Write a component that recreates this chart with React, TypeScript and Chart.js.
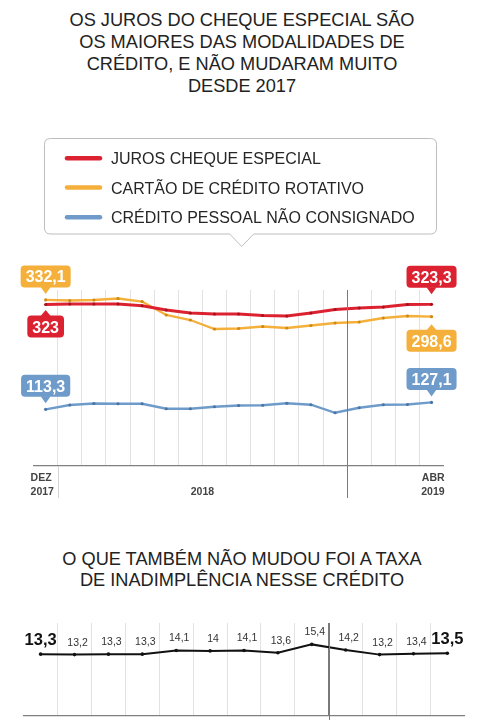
import React, { useEffect, useRef } from "react";
import { Chart, registerables } from "chart.js";

Chart.register(...registerables);

// ---------- DATA ----------
const TITLE_LINES = [
  "OS JUROS DO CHEQUE ESPECIAL SÃO",
  "OS MAIORES DAS MODALIDADES DE",
  "CRÉDITO, E NÃO MUDARAM MUITO",
  "DESDE 2017",
];
const SUBTITLE_LINES = [
  "O QUE TAMBÉM NÃO MUDOU FOI A TAXA",
  "DE INADIMPLÊNCIA NESSE CRÉDITO",
];

const MONTHS = [
  "DEZ 2017", "JAN 2018", "FEV 2018", "MAR 2018", "ABR 2018", "MAI 2018",
  "JUN 2018", "JUL 2018", "AGO 2018", "SET 2018", "OUT 2018", "NOV 2018",
  "DEZ 2018", "JAN 2019", "FEV 2019", "MAR 2019", "ABR 2019",
];
const SERIES_LABELS = [
  "JUROS CHEQUE ESPECIAL",
  "CARTÃO DE CRÉDITO ROTATIVO",
  "CRÉDITO PESSOAL NÃO CONSIGNADO",
];
const CHEQUE_ESPECIAL = [323, 324, 324, 324, 320.5, 312, 306, 304, 304, 301, 300, 306, 313, 316, 318, 323, 323.3];
const CARTAO_ROTATIVO = [332.1, 331, 332, 335, 329, 302, 292, 274, 275, 279, 276, 281, 286, 288, 296, 300, 298.6];
const PESSOAL = [113.3, 122, 125, 124.5, 124.5, 114.5, 114.5, 118.5, 121, 121.5, 125.5, 122.5, 106.5, 116.5, 122.5, 123, 127.1];

const AXIS_START = ["DEZ", "2017"];
const AXIS_MIDDLE = "2018";
const AXIS_END = ["ABR", "2019"];

const DEFAULT_MONTHS = [
  "ABR 2018", "MAI 2018", "JUN 2018", "JUL 2018", "AGO 2018", "SET 2018",
  "OUT 2018", "NOV 2018", "DEZ 2018", "JAN 2019", "FEV 2019", "MAR 2019", "ABR 2019",
];
const INADIMPLENCIA = [13.3, 13.2, 13.3, 13.3, 14.1, 14, 14.1, 13.6, 15.4, 14.2, 13.2, 13.4, 13.5];

// ---------- STYLE ----------
const FONT = '"Liberation Sans", Arial, Helvetica, sans-serif';
const RED = "#DC2230";
const ORANGE = "#F4B03A";
const BLUE = "#6E9BC9";
const COLORS = [RED, ORANGE, BLUE];
const DOT_COLORS = ["#A8121E", "#D08A12", "#4A76A6"];

const fmt = (v: number) => String(v).replace(".", ",");

function roundRect(ctx: CanvasRenderingContext2D, x: number, y: number, w: number, h: number, r: number) {
  ctx.beginPath();
  ctx.moveTo(x + r, y);
  ctx.lineTo(x + w - r, y);
  ctx.quadraticCurveTo(x + w, y, x + w, y + r);
  ctx.lineTo(x + w, y + h - r);
  ctx.quadraticCurveTo(x + w, y + h, x + w - r, y + h);
  ctx.lineTo(x + r, y + h);
  ctx.quadraticCurveTo(x, y + h, x, y + h - r);
  ctx.lineTo(x, y + r);
  ctx.quadraticCurveTo(x, y, x + r, y);
  ctx.closePath();
}

function bubble(ctx: CanvasRenderingContext2D, cx: number, py: number, text: string, color: string, pos: "above" | "below", extra: number) {
  ctx.save();
  ctx.font = `bold 16px ${FONT}`;
  const w = ctx.measureText(text).width + 10;
  const h = 22;
  const x = cx - w / 2;
  let y: number;
  ctx.fillStyle = color;
  if (pos === "above") {
    y = py - 12.5 - extra - h;
    roundRect(ctx, x, y, w, h, 4);
    ctx.fill();
    ctx.beginPath();
    ctx.moveTo(cx - 5, y + h - 0.5);
    ctx.lineTo(cx + 5, y + h - 0.5);
    ctx.lineTo(cx, y + h + 6.5);
    ctx.closePath();
    ctx.fill();
  } else {
    y = py + 11 + extra;
    roundRect(ctx, x, y, w, h, 4);
    ctx.fill();
    ctx.beginPath();
    ctx.moveTo(cx - 5, y + 0.5);
    ctx.lineTo(cx + 5, y + 0.5);
    ctx.lineTo(cx, y - 5.5);
    ctx.closePath();
    ctx.fill();
  }
  ctx.fillStyle = "#ffffff";
  ctx.textAlign = "center";
  ctx.textBaseline = "alphabetic";
  ctx.fillText(text, cx, y + h - 5);
  ctx.restore();
}

const BUBBLES: { series: number; index: number; pos: "above" | "below"; extra: number }[] = [
  { series: 1, index: 0, pos: "above", extra: 0 },
  { series: 0, index: 0, pos: "below", extra: 0 },
  { series: 2, index: 0, pos: "above", extra: 0 },
  { series: 0, index: 16, pos: "above", extra: 4 },
  { series: 1, index: 16, pos: "below", extra: 2 },
  { series: 2, index: 16, pos: "above", extra: 0 },
];

const topPlugin = {
  id: "topDecor",
  afterDraw(chart: any) {
    const ctx: CanvasRenderingContext2D = chart.ctx;
    const { left, right, top, bottom } = chart.chartArea;
    const xs = chart.scales.x;
    ctx.save();

    // year separators
    ctx.lineWidth = 1;
    ctx.strokeStyle = "#d4d4d4";
    let xp = Math.round(xs.getPixelForValue(0.5)) + 0.5;
    ctx.beginPath();
    ctx.moveTo(xp, bottom);
    ctx.lineTo(xp, bottom + 32);
    ctx.stroke();
    ctx.strokeStyle = "#7a7a7a";
    xp = Math.round(xs.getPixelForValue(12.5)) + 0.5;
    ctx.beginPath();
    ctx.moveTo(xp, top);
    ctx.lineTo(xp, bottom + 32);
    ctx.stroke();

    // axis labels
    ctx.fillStyle = "#444";
    ctx.font = `bold 10.5px ${FONT}`;
    ctx.textBaseline = "alphabetic";
    ctx.textAlign = "left";
    ctx.fillText(AXIS_START[0], left - 3, bottom + 15);
    ctx.fillText(AXIS_START[1], left - 3, bottom + 29);
    ctx.textAlign = "center";
    ctx.fillText(AXIS_MIDDLE, xs.getPixelForValue(6.5), bottom + 29);
    ctx.textAlign = "right";
    ctx.fillText(AXIS_END[0], right + 1, bottom + 15);
    ctx.fillText(AXIS_END[1], right + 1, bottom + 29);

    // legend box
    ctx.strokeStyle = "#bdbdbd";
    ctx.fillStyle = "#ffffff";
    ctx.lineWidth = 1;
    const bx = 44.5, by = 138.5, bw = 392, bh = 95.5;
    ctx.beginPath();
    const r = 6;
    ctx.moveTo(bx + r, by);
    ctx.lineTo(bx + bw - r, by);
    ctx.quadraticCurveTo(bx + bw, by, bx + bw, by + r);
    ctx.lineTo(bx + bw, by + bh - r);
    ctx.quadraticCurveTo(bx + bw, by + bh, bx + bw - r, by + bh);
    ctx.lineTo(241.7 + 12, by + bh);
    ctx.lineTo(241.7, by + bh + 12.5);
    ctx.lineTo(241.7 - 12, by + bh);
    ctx.lineTo(bx + r, by + bh);
    ctx.quadraticCurveTo(bx, by + bh, bx, by + bh - r);
    ctx.lineTo(bx, by + r);
    ctx.quadraticCurveTo(bx, by, bx + r, by);
    ctx.closePath();
    ctx.fill();
    ctx.stroke();

    const rowsY = [158.3, 187.5, 217.3];
    chart.data.datasets.forEach((ds: any, i: number) => {
      ctx.strokeStyle = ds.borderColor;
      ctx.lineWidth = 4.5;
      ctx.lineCap = "round";
      ctx.beginPath();
      ctx.moveTo(67, rowsY[i]);
      ctx.lineTo(100, rowsY[i]);
      ctx.stroke();
      ctx.fillStyle = "#262626";
      ctx.font = `16px ${FONT}`;
      ctx.textAlign = "left";
      ctx.fillText(ds.label, 111, rowsY[i] + 6);
    });

    // value bubbles
    BUBBLES.forEach((b) => {
      const pt = chart.getDatasetMeta(b.series).data[b.index];
      const v = chart.data.datasets[b.series].data[b.index];
      bubble(ctx, pt.x, pt.y, fmt(v), COLORS[b.series], b.pos, b.extra);
    });
    ctx.restore();
  },
};

const bottomPlugin = {
  id: "bottomDecor",
  afterDraw(chart: any) {
    const ctx: CanvasRenderingContext2D = chart.ctx;
    const { top } = chart.chartArea;
    const xs = chart.scales.x;
    ctx.save();
    ctx.strokeStyle = "#7a7a7a";
    ctx.lineWidth = 1;
    const xp = Math.round(xs.getPixelForValue(8.5)) + 0.5;
    ctx.beginPath();
    ctx.moveTo(xp, top);
    ctx.lineTo(xp, chart.height);
    ctx.stroke();

    const meta = chart.getDatasetMeta(0);
    const data = chart.data.datasets[0].data;
    ctx.textBaseline = "alphabetic";
    ctx.textAlign = "center";
    meta.data.forEach((pt: any, i: number) => {
      const edge = i === 0 || i === data.length - 1;
      if (edge) {
        ctx.font = `bold 16.5px ${FONT}`;
        ctx.fillStyle = "#111";
        ctx.fillText(fmt(data[i]), pt.x, pt.y - 9);
      } else {
        ctx.font = `10.5px ${FONT}`;
        ctx.fillStyle = "#333";
        ctx.fillText(fmt(data[i]), pt.x + 3, pt.y - 9);
      }
    });
    ctx.restore();
  },
};

function gridColor(darkIndex: number) {
  return (c: any) => {
    if (c.index === undefined || c.index === 0) return "rgba(0,0,0,0)";
    if (c.index === darkIndex) return "#7a7a7a";
    return "#e2e2e2";
  };
}

export default function App() {
  const topRef = useRef<HTMLCanvasElement>(null);
  const botRef = useRef<HTMLCanvasElement>(null);

  useEffect(() => {
    const top = new Chart(topRef.current!, {
      type: "line",
      data: {
        labels: MONTHS,
        datasets: [CHEQUE_ESPECIAL, CARTAO_ROTATIVO, PESSOAL].map((d, i) => ({
          label: SERIES_LABELS[i],
          data: d,
          borderColor: COLORS[i],
          backgroundColor: COLORS[i],
          borderWidth: i === 0 ? 2.8 : 2.3,
          pointRadius: 1.6,
          pointBackgroundColor: DOT_COLORS[i],
          pointBorderWidth: 0,
          tension: 0,
        })),
      },
      options: {
        responsive: false,
        animation: false,
        layout: { padding: { top: 290, bottom: 44, left: 33.6, right: 36.4 } },
        plugins: { legend: { display: false }, tooltip: { enabled: false } },
        scales: {
          x: {
            type: "category",
            offset: true,
            ticks: { display: false },
            grid: { display: true, drawTicks: false, offset: true, color: gridColor(13), lineWidth: 1 },
            border: { display: true, color: "#808080", width: 1.2 },
          },
          y: { display: false, min: 0, max: 352 },
        },
      },
      plugins: [topPlugin],
    });

    const bot = new Chart(botRef.current!, {
      type: "line",
      data: {
        labels: DEFAULT_MONTHS,
        datasets: [
          {
            label: "INADIMPLÊNCIA",
            data: INADIMPLENCIA,
            borderColor: "#111",
            backgroundColor: "#111",
            borderWidth: 2,
            pointRadius: 1.8,
            pointBackgroundColor: "#111",
            pointBorderWidth: 0,
            tension: 0,
          },
        ],
      },
      options: {
        responsive: false,
        animation: false,
        layout: { padding: { top: 23, bottom: 2, left: 23.7, right: 15.7 } },
        plugins: { legend: { display: false }, tooltip: { enabled: false } },
        scales: {
          x: {
            type: "category",
            offset: true,
            ticks: { display: false },
            grid: { display: true, drawTicks: false, offset: true, color: gridColor(9), lineWidth: 1 },
            border: { display: true, color: "#808080", width: 1.2 },
          },
          y: { display: false, min: 0, max: 20 },
        },
      },
      plugins: [bottomPlugin],
    });

    return () => {
      top.destroy();
      bot.destroy();
    };
  }, []);

  const titleStyle: React.CSSProperties = {
    position: "absolute",
    left: 2,
    width: 480,
    textAlign: "center",
    fontFamily: FONT,
    fontSize: "18.2px",
    color: "#222",
    margin: 0,
    whiteSpace: "nowrap",
  };

  return (
    <div style={{ position: "fixed", left: 0, top: 0, width: 480, height: 720, background: "#fff", overflow: "hidden" }}>
      <div style={{ ...titleStyle, top: 8.7, lineHeight: "22px" }}>
        {TITLE_LINES.map((l, i) => (
          <div key={i}>{l}</div>
        ))}
      </div>
      <canvas ref={topRef} width={480} height={510} style={{ position: "absolute", left: 0, top: 0, width: 480, height: 510 }} />
      <div style={{ ...titleStyle, top: 549, lineHeight: "21.3px" }}>
        {SUBTITLE_LINES.map((l, i) => (
          <div key={i}>{l}</div>
        ))}
      </div>
      <canvas ref={botRef} width={480} height={120} style={{ position: "absolute", left: 0, top: 600, width: 480, height: 120 }} />
    </div>
  );
}
